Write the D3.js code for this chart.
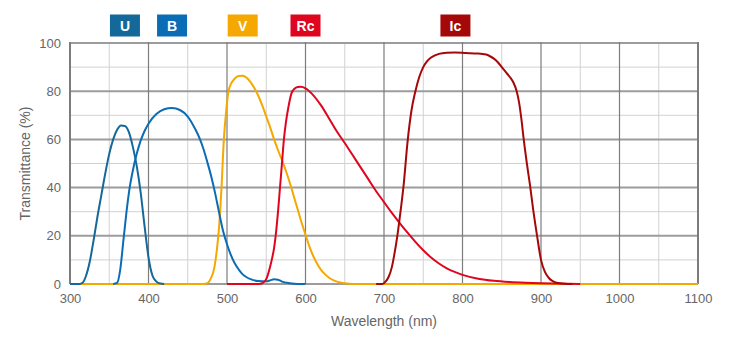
<!DOCTYPE html>
<html>
<head>
<meta charset="utf-8">
<script src="https://cdn.jsdelivr.net/npm/d3@7"></script>
<style>
  body { margin: 0; background: #fff; }
  svg { display: block; font-family: "Liberation Sans", Arial, sans-serif; }
</style>
</head>
<body>
<svg id="chart" width="740" height="343"></svg>
<script>
// filter names, colours and where their label boxes sit (nm)
const filters = ["U", "B", "V", "Rc", "Ic"];
const colors = { U: "#14699a", B: "#0b6cb6", V: "#f5a800", Rc: "#e0051e", Ic: "#a50808" };
const labelAt = { U: 370, B: 430, V: 520, Rc: 600, Ic: 791 };

// transmission curves, [wavelength nm, transmittance %]
const uData = [[300,0],[312,0],[316,0.5],[320,3],[325,9],[330,18],[335,28],[340,37],[345,46],[350,54],[355,60],[360,64],[365,65.8],[370,65.6],[375,63],[380,57],[385,49],[390,38],[395,24],[400,11],[405,3.5],[410,1],[415,0.2],[420,0]];
const bData = [[355,0],[360,0.5],[364,6],[368,18],[372,30],[376,40],[380,47],[385,54],[390,59.5],[395,63.5],[400,66.5],[410,70.5],[420,72.5],[430,73],[440,72.2],[450,69.5],[460,64],[465,60.5],[470,56],[475,50.5],[480,44.5],[485,37.5],[490,29.5],[495,22],[500,16.5],[505,12],[510,8.5],[515,6],[520,4],[525,2.8],[530,2],[540,1.2],[550,1.1],[555,1.5],[560,2],[565,1.8],[570,1],[580,0.3],[590,0],[600,0]];
const vData = [[300,0],[470,0],[475,0.3],[479,2],[484,7],[488,17],[490,24],[493,40],[496,60],[499,72],[502,80],[505,83],[510,85.3],[515,86.3],[520,86.4],[525,85.6],[530,83.8],[535,81.2],[540,78],[545,74],[550,69.5],[555,65],[560,60],[565,55.5],[570,51.5],[575,47],[580,42],[585,36.5],[590,31],[595,25.5],[600,20.5],[605,15.5],[610,11.5],[615,8.3],[620,5.8],[625,4],[630,2.6],[640,1],[650,0.3],[660,0],[1100,0]];
const rcData = [[500,0],[540,0],[545,0.3],[550,2],[554,6],[557,10],[560,15],[562,20],[565,30],[567.5,40],[570,50],[572.5,60],[575,67],[578,73],[582,79],[586,81],[590,81.7],[594,81.8],[600,81.2],[608,79],[620,74],[630,68.7],[640,63.3],[650,58.5],[660,53.5],[670,48.5],[680,43.5],[690,38.5],[700,34],[710,29.5],[720,25.3],[730,21.3],[740,17.5],[750,14],[760,11],[770,8.5],[780,6.5],[790,5],[800,3.8],[820,2.2],[840,1.3],[860,0.8],[880,0.5],[900,0.3],[950,0]];
const icData = [[690,0],[698,0],[702,1],[706,3],[710,7],[713,12],[717,20],[721,30],[725,41],[730,59],[735,72],[740,80],[745,86],[750,90],[755,92.5],[760,94],[770,95.5],[780,96],[790,96.1],[800,96],[810,95.7],[820,95.6],[830,95.2],[835,94.5],[840,93.5],[845,92],[850,90],[855,88],[860,86],[865,83.5],[869,80],[872,75.5],[875,68.5],[878,60],[882,50],[886,41],[890,31],[895,20],[900,10],[905,5],[910,2.5],[915,1.2],[920,0.5],[930,0.1],[940,0]];

const series = { U: uData, B: bData, V: vData, Rc: rcData, Ic: icData };
const drawOrder = ["V", "U", "B", "Rc", "Ic"];

const xTicks = [300, 400, 500, 600, 700, 800, 900, 1000, 1100];
const yTicks = [0, 20, 40, 60, 80, 100];

const svg = d3.select("#chart");
const margin = { top: 43, right: 42, bottom: 59, left: 70 };
const width = 740 - margin.left - margin.right;
const height = 343 - margin.top - margin.bottom;

const x = d3.scaleLinear().domain([300, 1100]).range([0, width]);
const y = d3.scaleLinear().domain([0, 100]).range([height, 0]);

const g = svg.append("g").attr("transform", `translate(${margin.left},${margin.top})`);

// minor grid
g.selectAll(".vminor").data(d3.range(350, 1100, 100)).enter().append("line")
  .attr("x1", d => x(d)).attr("x2", d => x(d)).attr("y1", 0).attr("y2", height)
  .attr("stroke", "#d2d2d2").attr("stroke-width", 1);
g.selectAll(".hminor").data(d3.range(10, 100, 20)).enter().append("line")
  .attr("x1", 0).attr("x2", width).attr("y1", d => y(d)).attr("y2", d => y(d))
  .attr("stroke", "#d2d2d2").attr("stroke-width", 1);

// major grid
g.selectAll(".hmajor").data(yTicks).enter().append("line")
  .attr("x1", 0).attr("x2", width).attr("y1", d => y(d)).attr("y2", d => y(d))
  .attr("stroke", "#9c9c9c").attr("stroke-width", 2);
g.selectAll(".vmajor").data(xTicks).enter().append("line")
  .attr("x1", d => x(d)).attr("x2", d => x(d)).attr("y1", -1).attr("y2", height)
  .attr("stroke", "#7c7c7c").attr("stroke-width", d => (d === 300 || d === 1100) ? 2 : 1.2);

// axes (labels only)
const xAxis = g.append("g").attr("transform", `translate(0,${height})`)
  .call(d3.axisBottom(x).tickValues(xTicks).tickFormat(d3.format("d")).tickSize(0).tickPadding(10));
const yAxis = g.append("g")
  .call(d3.axisLeft(y).tickValues(yTicks).tickFormat(d3.format("d")).tickSize(0).tickPadding(9));
[xAxis, yAxis].forEach(a => {
  a.select(".domain").remove();
  a.selectAll("text").attr("fill", "#666").style("font-size", "13px")
    .style("font-family", "'Liberation Sans', Arial, sans-serif");
});

// curves
const line = d3.line().x(d => x(d[0])).y(d => y(d[1])).curve(d3.curveMonotoneX);
drawOrder.forEach(k => {
  g.append("path").datum(series[k]).attr("d", line)
    .attr("fill", "none").attr("stroke", colors[k]).attr("stroke-width", 2);
});

// label boxes
const boxes = svg.selectAll(".lab").data(filters).enter().append("g")
  .attr("transform", d => `translate(${margin.left + x(labelAt[d])},14.5)`);
boxes.append("rect").attr("x", -15).attr("width", 30).attr("height", 22)
  .attr("fill", d => colors[d]);
boxes.append("text").attr("y", 16).attr("text-anchor", "middle")
  .attr("fill", "#fff").style("font-size", "14px").style("font-weight", "bold")
  .text(d => d);

// axis titles
svg.append("text").attr("x", margin.left + width / 2).attr("y", 326)
  .attr("text-anchor", "middle").attr("fill", "#666").style("font-size", "14px")
  .text("Wavelength (nm)");
svg.append("text").attr("transform", `translate(30,${margin.top + height / 2}) rotate(-90)`)
  .attr("text-anchor", "middle").attr("fill", "#666").style("font-size", "14px")
  .text("Transmittance (%)");
</script>
</body>
</html>
